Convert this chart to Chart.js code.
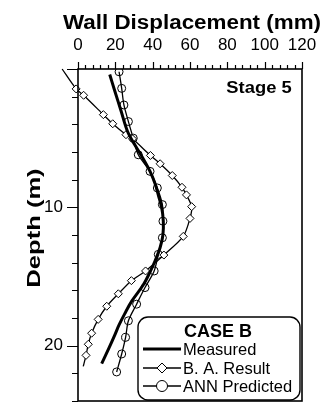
<!DOCTYPE html>
<html>
<head>
<meta charset="utf-8">
<script src="https://cdn.jsdelivr.net/npm/chart.js"></script>
<style>
  html, body { margin: 0; padding: 0; background: #fff; overflow: hidden; }
  #wrap { width: 331px; height: 406px; }
</style>
</head>
<body>
<div id="wrap"><canvas id="chart"></canvas></div>
<script>
// ===========================================
// Data
// ===========================================

// Measured wall displacement
var measured_depth = [0.4, 1.5, 3.0, 4.5, 5.5, 6.5, 7.4, 8.3, 9.1, 10.0, 11.0, 12.0, 12.9, 13.9, 14.7, 15.6, 16.8, 17.7, 18.5, 19.2, 20.2, 21.3];
var measured_disp  = [17, 19.5, 23, 26.5, 30.5, 35, 38.6, 41.3, 43, 44.8, 45.7, 45.5, 44, 41.2, 38.5, 35, 28.7, 25, 22, 19.8, 16.5, 12.7];

// B. A. result
var ba_depth = [0, 1.44, 1.9, 3.3, 3.96, 4.75, 5.05, 6.25, 6.85, 7.7, 8.55, 9.1, 9.95, 10.8, 12.1, 13.45, 14.6, 15.3, 16.25, 17.15, 18.1, 19.1, 19.9, 20.7, 21.5];
var ba_disp  = [-8.5, -1, 3, 13.6, 18.6, 25.7, 29.2, 38.8, 44, 50.5, 55.7, 58.1, 60.9, 60, 56.4, 46, 36.2, 28.6, 21.6, 15.4, 10.8, 7.3, 5.5, 4.3, 2.8];

// ANN predicted
var ann_depth = [0.2, 1.4, 2.6, 3.8, 5.0, 6.2, 7.4, 8.6, 9.8, 11.0, 12.2, 13.4, 14.6, 15.8, 17.0, 18.2, 19.4, 20.6, 21.9];
var ann_disp  = [22, 23.4, 24.6, 27, 29.6, 32.3, 38.6, 42.5, 45.2, 45.5, 45.2, 43, 40.8, 35.9, 31.4, 27, 25.5, 23.4, 20.7];

// Axes
var disp_ticks  = [0, 20, 40, 60, 80, 100, 120];
var depth_ticks = [10, 20];
var depth_max = 24;

var series_labels = ["Measured", "B. A. Result", "ANN Predicted"];
var x_title = "Wall Displacement (mm)";
var y_title = "Depth (m)";
var stage_label = "Stage 5";
var case_label = "CASE B";

// ===========================================
// Helpers
// ===========================================
var font_family = '"Liberation Sans", Arial, Helvetica, sans-serif';

function toPoints(depth, disp) {
	return depth.map(function (d, i) { return { x: disp[i], y: d }; });
}

function diamond(ctx, x, y, r) {
	ctx.beginPath();
	ctx.moveTo(x, y - r);
	ctx.lineTo(x + r, y);
	ctx.lineTo(x, y + r);
	ctx.lineTo(x - r, y);
	ctx.closePath();
	ctx.fillStyle = '#fff';
	ctx.fill();
	ctx.stroke();
}

// wide bold text, as in the scanned figure
function stretchedText(ctx, text, x, y, sx, rot) {
	ctx.save();
	ctx.translate(x, y);
	ctx.rotate(rot);
	ctx.scale(sx, 1);
	ctx.fillText(text, 0, 0);
	ctx.restore();
}

// titles, frame, tick marks, stage label and the boxed legend
var decor = {
	id: 'decor',
	afterDatasetsDraw: function (chart) {
		var ctx = chart.ctx, a = chart.chartArea;
		var xs = chart.scales.x, ys = chart.scales.y;
		ctx.save();
		ctx.strokeStyle = '#000';
		ctx.lineWidth = 1.6;
		ctx.strokeRect(a.left, a.top, a.right - a.left, a.bottom - a.top);

		ctx.lineWidth = 1.2;
		ctx.beginPath();
		for (var v = 0; v <= 120; v += 4) {
			var px = Math.round(xs.getPixelForValue(v)) + 0.5;
			var len = (v % 20 === 0) ? 7 : 4;
			ctx.moveTo(px, a.top);
			ctx.lineTo(px, a.top - len);
		}
		for (var d = 0; d <= depth_max; d += 2) {
			var py = Math.round(ys.getPixelForValue(d)) + 0.5;
			var l2 = (d % 10 === 0) ? 11 : 6;
			ctx.moveTo(a.left, py);
			ctx.lineTo(a.left - l2, py);
		}
		ctx.stroke();

		ctx.fillStyle = '#000';
		ctx.textAlign = 'center';
		ctx.textBaseline = 'alphabetic';
		ctx.font = 'bold 20px ' + font_family;
		stretchedText(ctx, x_title, 192, 29, 1.12, 0);
		ctx.font = 'bold 18px ' + font_family;
		stretchedText(ctx, y_title, 40, 228, 1.42, -Math.PI / 2);

		ctx.font = 'bold 17px ' + font_family;
		stretchedText(ctx, stage_label, 259, 93, 1.08, 0);

		// legend box
		var bx = 138, by = 317, bw = 162, bh = 83, r = 10;
		ctx.beginPath();
		ctx.moveTo(bx + r, by);
		ctx.arcTo(bx + bw, by, bx + bw, by + bh, r);
		ctx.arcTo(bx + bw, by + bh, bx, by + bh, r);
		ctx.arcTo(bx, by + bh, bx, by, r);
		ctx.arcTo(bx, by, bx + bw, by, r);
		ctx.closePath();
		ctx.fillStyle = '#fff';
		ctx.fill();
		ctx.lineWidth = 1.4;
		ctx.stroke();

		ctx.fillStyle = '#000';
		ctx.textBaseline = 'middle';
		ctx.font = 'bold 18px ' + font_family;
		ctx.fillText(case_label, 218, 332);

		var rows = [349, 368, 386];
		chart.data.datasets.forEach(function (ds, i) {
			var y0 = rows[i];
			ctx.strokeStyle = '#000';
			ctx.lineWidth = ds.borderWidth;
			ctx.beginPath();
			ctx.moveTo(143, y0);
			ctx.lineTo(181, y0);
			ctx.stroke();
			ctx.lineWidth = 1;
			if (ds.pointStyle === 'rectRot') {
				diamond(ctx, 162, y0, 5);
			} else if (ds.pointStyle === 'circle') {
				ctx.beginPath();
				ctx.arc(162, y0, 5.5, 0, Math.PI * 2);
				ctx.fillStyle = '#fff';
				ctx.fill();
				ctx.stroke();
			}
			ctx.fillStyle = '#000';
			ctx.font = '16.5px ' + font_family;
			ctx.textAlign = 'left';
			ctx.fillText(ds.label, 183, y0 + 1);
		});
		ctx.restore();
	}
};

// ===========================================
// Chart
// ===========================================
Chart.defaults.font.family = font_family;
Chart.defaults.color = '#000';

var ctx = document.getElementById('chart').getContext('2d');
new Chart(ctx, {
	type: 'scatter',
	data: {
		datasets: [
			{
				label: series_labels[0],
				data: toPoints(measured_depth, measured_disp),
				showLine: true,
				borderColor: '#000',
				borderWidth: 3,
				pointRadius: 0,
				tension: 0.35
			},
			{
				label: series_labels[1],
				data: toPoints(ba_depth, ba_disp),
				showLine: true,
				borderColor: '#000',
				borderWidth: 1.3,
				pointStyle: 'rectRot',
				pointRadius: ba_depth.map(function (d, i) { return i === ba_depth.length - 1 ? 0 : 4; }),
				pointBorderWidth: 1,
				pointBackgroundColor: '#fff',
				pointBorderColor: '#000',
				tension: 0.25,
				clip: false
			},
			{
				label: series_labels[2],
				data: toPoints(ann_depth, ann_disp),
				showLine: true,
				borderColor: '#000',
				borderWidth: 1.3,
				pointStyle: 'circle',
				pointRadius: 4,
				pointBorderWidth: 1,
				pointBackgroundColor: 'rgba(255,255,255,0)',
				pointBorderColor: '#000',
				tension: 0.3
			}
		]
	},
	options: {
		responsive: true,
		maintainAspectRatio: false,
		animation: false,
		layout: { padding: { left: 0, top: 0, right: 29, bottom: 3 } },
		plugins: {
			legend: { display: false },
			tooltip: { enabled: false }
		},
		scales: {
			x: {
				type: 'linear',
				position: 'top',
				min: 0,
				max: 120,
				grid: { display: false, drawTicks: false },
				border: { display: false },
				afterBuildTicks: function (s) { s.ticks = disp_ticks.map(function (v) { return { value: v }; }); },
				ticks: { font: { size: 17 }, padding: 13, color: '#000' },
				afterFit: function (s) { s.height = 69; s.paddingLeft = 0; s.paddingRight = 0; }
			},
			y: {
				type: 'linear',
				reverse: true,
				min: 0,
				max: depth_max,
				grid: { display: false, drawTicks: false },
				border: { display: false },
				afterBuildTicks: function (s) { s.ticks = depth_ticks.map(function (v) { return { value: v }; }); },
				ticks: { font: { size: 17 }, padding: 15, color: '#000' },
				afterFit: function (s) { s.width = 78; s.paddingTop = 0; s.paddingBottom = 0; }
			}
		}
	},
	plugins: [decor]
});
</script>
</body>
</html>
